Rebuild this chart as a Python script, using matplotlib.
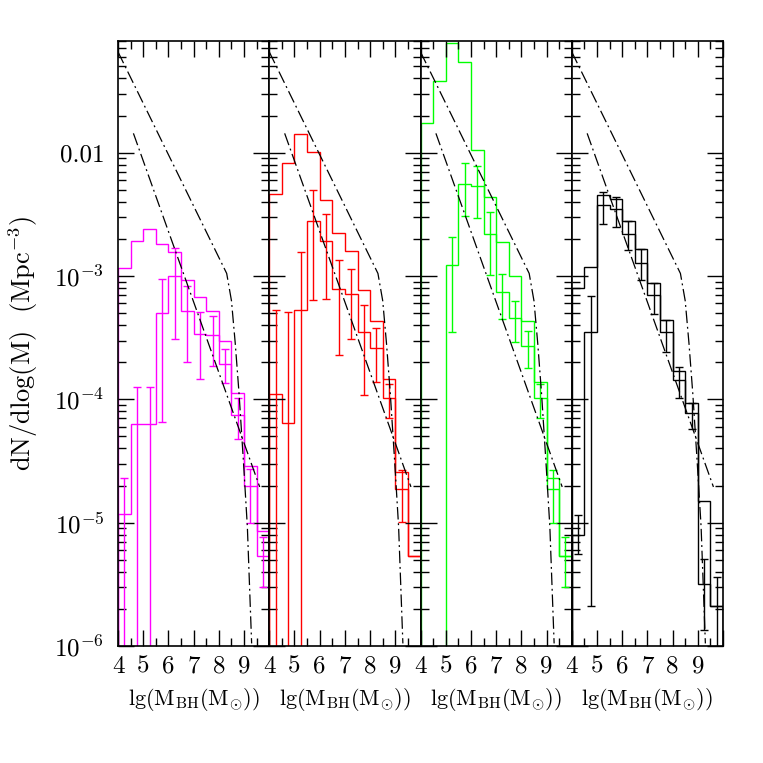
import numpy as np
import matplotlib
matplotlib.use("Agg")
import matplotlib.pyplot as plt
from matplotlib.ticker import MultipleLocator, LogLocator, NullFormatter, FixedLocator

plt.rcParams['font.family'] = ['cmr10', 'DejaVu Serif']
plt.rcParams['mathtext.fontset'] = 'cm'
plt.rcParams['axes.formatter.use_mathtext'] = True

# bin edges, lg(M_BH) in 0.5 dex bins
edges = np.arange(4.0, 10.01, 0.5)
centers = 0.5 * (edges[:-1] + edges[1:])

# panel 1 (magenta)
mag_all = [1.17e-3, 1.91e-3, 2.39e-3, 1.82e-3, 1.57e-3, 9.2e-4, 6.8e-4, 5.2e-4, 3.0e-4, 1.12e-4, 2.9e-5, 8.5e-6]
mag_sub = [1.17e-5, 6.3e-5, 6.3e-5, 5.0e-4, 1.0e-3, 5.2e-4, 3.4e-4, 3.3e-4, 1.95e-4, 7.5e-5, 2.0e-5, 5.4e-6]
mag_hi = [2.3e-5, 1.27e-4, 1.27e-4, 9.5e-4, 1.7e-3, 8.3e-4, 5.1e-4, 4.7e-4, 2.54e-4, 1.02e-4, 2.7e-5, 7.7e-6]
mag_lo = [0, 0, 0, 6.5e-5, 3.1e-4, 2.0e-4, 1.45e-4, 1.86e-4, 1.36e-4, 4.8e-5, 1.0e-5, 3.0e-6]

# panel 2 (red)
red_all = [4.6e-3, 8.3e-3, 1.42e-2, 1.01e-2, 4.16e-3, 2.22e-3, 1.6e-3, 7.7e-4, 4.3e-4, 1.45e-4, 2.6e-5, 5.4e-6]
red_sub = [1.1e-4, 6.4e-5, 5.3e-4, 2.8e-3, 1.93e-3, 7.9e-4, 7.2e-4, 3.5e-4, 2.6e-4, 1.03e-4, 1.86e-5, 5.4e-6]
red_hi = [5.3e-4, 5.1e-4, 1.57e-3, 5.0e-3, 3.18e-3, 1.35e-3, 1.13e-3, 5.8e-4, 3.8e-4, 1.33e-4, 2.67e-5, np.nan]
red_lo = [0, 0, 0, 6.4e-4, 6.5e-4, 2.28e-4, 3.06e-4, 1.09e-4, 1.39e-4, 7.0e-5, 1.02e-5, np.nan]

# panel 3 (green)
grn_all = [1.75e-2, 3.78e-2, 7.7e-2, 5.4e-2, 1.06e-2, 4.4e-3, 1.87e-3, 1.0e-3, 4.3e-4, 1.39e-4, 2.3e-5, 5.4e-6]
grn_sub = [0, 0, 1.22e-3, 5.6e-3, 5.4e-3, 2.18e-3, 7.4e-4, 4.6e-4, 2.7e-4, 1.02e-4, 1.86e-5, 5.4e-6]
grn_hi = [np.nan, np.nan, 2.06e-3, 8.2e-3, 7.8e-3, 3.33e-3, 1.03e-3, 6.3e-4, 3.55e-4, 1.33e-4, 2.67e-5, 7.7e-6]
grn_lo = [np.nan, np.nan, 3.5e-4, 3.08e-3, 2.94e-3, 1.01e-3, 4.5e-4, 2.9e-4, 1.8e-4, 7.0e-5, 1.0e-5, 3.0e-6]

# panel 4 (black)
blk_all = [8.0e-4, 1.18e-3, 4.5e-3, 4.2e-3, 2.8e-3, 1.67e-3, 8.8e-4, 4.4e-4, 1.7e-4, 9.4e-5, 1.5e-5, 2.1e-6]
blk_sub = [8.0e-6, 3.5e-4, 3.8e-3, 3.5e-3, 2.2e-3, 1.28e-3, 7.0e-4, 3.5e-4, 1.44e-4, 7.7e-5, 3.2e-6, 2.1e-6]
blk_hi = [1.15e-5, 6.9e-4, 4.83e-3, 4.4e-3, 2.8e-3, 1.67e-3, 8.8e-4, 4.4e-4, 1.84e-4, 9.4e-5, 5.1e-6, 3.65e-6]
blk_lo = [5.6e-6, 2.1e-6, 2.62e-3, 2.48e-3, 1.63e-3, 9.3e-4, 4.9e-4, 2.43e-4, 1.02e-4, 5.7e-5, 1.36e-6, 0]

# dash-dot model curves (same in every panel)
curveA_x = [4.0, 8.31, 8.5, 8.65, 8.8, 8.97, 9.13, 9.3]
curveA_y = [6.56e-2, 1.05e-3, 6.3e-4, 2.84e-4, 1.12e-4, 3.24e-5, 9.3e-6, 1.05e-6]
curveB_x = [4.61, 9.62]
curveB_y = [1.435e-2, 1.95e-5]

panels = [
    ('#ff00ff', mag_all, mag_sub, mag_hi, mag_lo),
    ('#ff0000', red_all, red_sub, red_hi, red_lo),
    ('#00ff00', grn_all, grn_sub, grn_hi, grn_lo),
    ('black', blk_all, blk_sub, blk_hi, blk_lo),
]

floor = 1e-9
fig = plt.figure(figsize=(7.63, 7.63), dpi=100)
axs = fig.subplots(1, 4, sharey=True, gridspec_kw=dict(wspace=0))
fig.subplots_adjust(left=0.1547, right=0.9476, bottom=0.1533, top=0.9463)

for i, (ax, (c, v_all, v_sub, v_hi, v_lo)) in enumerate(zip(axs, panels)):
    ax.set_yscale('log')
    v_all = np.array(v_all); v_sub = np.array(v_sub)
    v_hi = np.array(v_hi); v_lo = np.array(v_lo)
    ax.stairs(np.maximum(v_all, floor), edges, baseline=floor, color=c, lw=1.0)
    ax.stairs(np.maximum(v_sub, floor), edges, baseline=floor, color=c, lw=1.0)
    ok = np.isfinite(v_hi)
    lo = np.maximum(v_lo[ok], floor)
    ax.errorbar(centers[ok], v_sub[ok], yerr=[v_sub[ok] - lo, v_hi[ok] - v_sub[ok]],
                fmt='none', ecolor=c, elinewidth=1.0, capsize=3, capthick=1.0)
    ax.plot(curveA_x, curveA_y, color='black', lw=0.9, dashes=(10, 3, 1.5, 3))
    ax.plot(curveB_x, curveB_y, color='black', lw=0.9, dashes=(10, 3, 1.5, 3))

    ax.set_xlim(4, 10)
    ax.set_ylim(1e-6, 0.0805)
    ax.xaxis.set_major_locator(FixedLocator([4, 5, 6, 7, 8, 9, 10]))
    ax.set_xticklabels(['4', '5', '6', '7', '8', '9', ''])
    ax.xaxis.set_minor_locator(MultipleLocator(0.5))
    ax.yaxis.set_major_locator(FixedLocator([1e-6, 1e-5, 1e-4, 1e-3, 1e-2]))
    ax.yaxis.set_minor_locator(LogLocator(base=10, subs=np.arange(2, 10)))
    ax.yaxis.set_minor_formatter(NullFormatter())
    ax.tick_params(which='both', direction='in', top=True, right=True, labelsize=18, width=1.0)
    ax.tick_params(which='major', length=11.5)
    ax.tick_params(which='minor', length=5.8)
    ax.tick_params(axis='x', pad=7)
    ax.tick_params(axis='y', pad=10)
    for s in ax.spines.values():
        s.set_linewidth(1.2)
    ax.set_xlabel(r'lg(M$_{\rm BH}$(M$_{\odot}$))', fontsize=16, labelpad=6)

axs[0].set_yticklabels([r'$10^{-6}$', r'$10^{-5}$', r'$10^{-4}$', r'$10^{-3}$', '0.01'])
axs[0].set_ylabel(r'dN/dlog(M)  (Mpc$^{-3}$)', fontsize=19, labelpad=10)

fig.savefig('out.png', dpi=100)
